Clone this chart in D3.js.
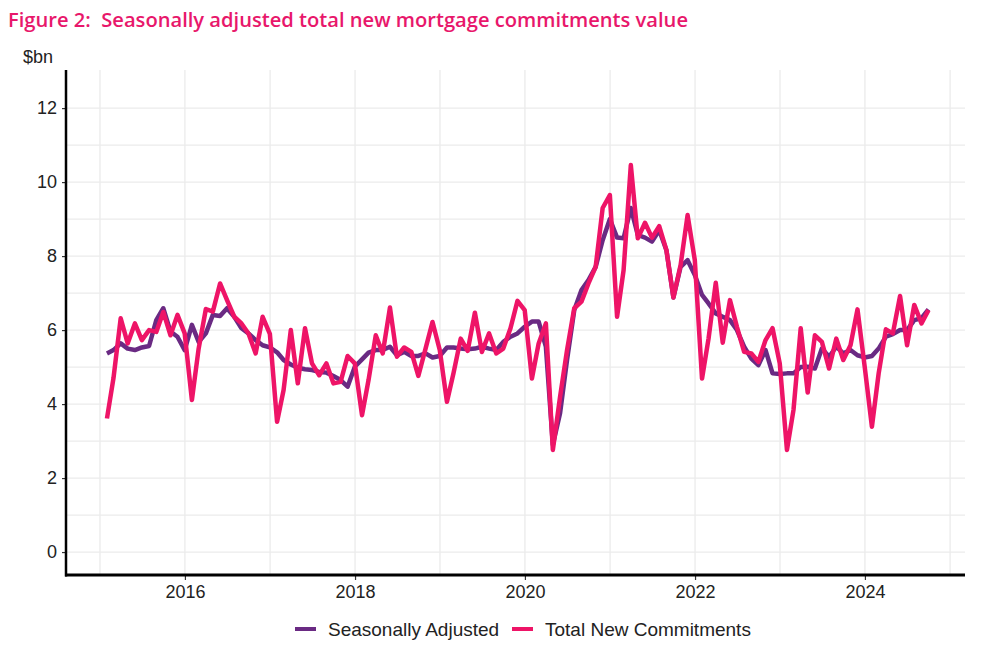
<!DOCTYPE html>
<html>
<head>
<meta charset="utf-8">
<script src="https://cdn.jsdelivr.net/npm/d3@7"></script>
<style>
  body { margin: 0; background: #fff; }
  svg { display: block; }
</style>
</head>
<body>
<svg id="chart" width="981" height="654"></svg>
<script>
// chart data: monthly, Jan 2015 to Sep 2024 ($bn)
var startMonth = new Date(2015, 0, 1);
var endMonth = new Date(2024, 8, 1);

var seasonallyAdjusted = [
  5.37, 5.46, 5.64, 5.50, 5.46, 5.53, 5.57, 6.27, 6.59, 5.96, 5.82, 5.46,
  6.14, 5.68, 5.91, 6.41, 6.38, 6.59, 6.36, 6.05, 5.91, 5.73, 5.59, 5.53,
  5.40, 5.19, 5.07, 4.98, 4.94, 4.92, 4.87, 4.85, 4.76, 4.65, 4.47, 5.01,
  5.21, 5.39, 5.46, 5.46, 5.55, 5.32, 5.41, 5.30, 5.30, 5.37, 5.26, 5.30,
  5.53, 5.53, 5.50, 5.48, 5.50, 5.55, 5.50, 5.46, 5.68, 5.82, 5.91, 6.09,
  6.23, 6.23, 5.55, 2.90, 3.75, 5.19, 6.54, 7.08, 7.35, 7.71, 8.43, 9.00,
  8.50, 8.48, 9.30, 8.57, 8.50, 8.39, 8.70, 8.16, 6.88, 7.71, 7.89, 7.49,
  6.95, 6.72, 6.45, 6.36, 6.27, 6.00, 5.55, 5.23, 5.05, 5.46, 4.83, 4.81,
  4.83, 4.83, 5.00, 5.01, 4.96, 5.50, 5.28, 5.55, 5.37, 5.46, 5.32, 5.26,
  5.30, 5.50, 5.82, 5.89, 6.00, 6.00, 6.27, 6.32, 6.56
];

var totalNewCommitments = [
  3.61, 4.70, 6.32, 5.64, 6.18, 5.73, 6.00, 5.95, 6.49, 5.86, 6.41, 5.91,
  4.11, 5.50, 6.57, 6.50, 7.26, 6.81, 6.36, 6.18, 5.91, 5.37, 6.36, 5.90,
  3.52, 4.38, 6.00, 4.56, 6.05, 5.10, 4.78, 5.10, 4.56, 4.60, 5.30, 5.10,
  3.70, 4.65, 5.86, 5.37, 6.61, 5.28, 5.53, 5.41, 4.76, 5.50, 6.22, 5.46,
  4.06, 4.83, 5.77, 5.44, 6.47, 5.41, 5.91, 5.37, 5.50, 6.05, 6.79, 6.54,
  4.69, 5.64, 6.18, 2.76, 4.20, 5.46, 6.59, 6.77, 7.26, 7.71, 9.30, 9.65,
  6.36, 7.62, 10.46, 8.48, 8.90, 8.50, 8.81, 8.16, 6.88, 7.76, 9.11, 7.89,
  4.69, 5.77, 7.28, 5.66, 6.81, 6.09, 5.41, 5.37, 5.14, 5.73, 6.05, 5.10,
  2.76, 3.84, 6.05, 4.31, 5.86, 5.68, 4.96, 5.77, 5.19, 5.59, 6.56, 5.01,
  3.39, 4.83, 6.02, 5.91, 6.92, 5.59, 6.68, 6.18, 6.54
];

var seriesNames = ['Seasonally Adjusted', 'Total New Commitments'];
var seriesColors = ['#6a2a83', '#ee1467'];

var yTicks = [0, 2, 4, 6, 8, 10, 12];
var xTickYears = [2016, 2018, 2020, 2022, 2024];

var titleText = 'Figure 2:  Seasonally adjusted total new mortgage commitments value';
var unitLabel = '$bn';

// layout
var margin = { top: 70, right: 16, bottom: 79, left: 66 };
var width = 981, height = 654;
var plotRight = width - margin.right;
var plotBottom = height - margin.bottom;
var labelFont = 'Liberation Sans, Arial, sans-serif';

var svg = d3.select('#chart');

// months -> plotted at the end of each month
var months = d3.timeMonth.range(startMonth, d3.timeMonth.offset(endMonth, 1));
var monthEnd = months.map(function(d) { return new Date(d.getFullYear(), d.getMonth() + 1, 0); });

var x = d3.scaleTime()
  .domain([new Date(2014, 7, 8), new Date(2025, 2, 6)])
  .range([margin.left, plotRight]);

var y = d3.scaleLinear()
  .domain([-0.62, 13.03])
  .range([plotBottom, margin.top]);

// gridlines (every year, every 1bn)
var gridYears = d3.range(2015, 2026).map(function(yr) { return new Date(yr, 0, 1); });
var gridVals = d3.range(0, 13);

var grid = svg.append('g').attr('class', 'grid');
grid.selectAll('line.v')
  .data(gridYears)
  .enter().append('line')
  .attr('class', 'v')
  .attr('x1', function(d) { return x(d); })
  .attr('x2', function(d) { return x(d); })
  .attr('y1', margin.top)
  .attr('y2', plotBottom)
  .attr('stroke', '#ebebeb')
  .attr('stroke-width', 1.3);

grid.selectAll('line.h')
  .data(gridVals)
  .enter().append('line')
  .attr('class', 'h')
  .attr('x1', margin.left)
  .attr('x2', plotRight)
  .attr('y1', function(d) { return y(d); })
  .attr('y2', function(d) { return y(d); })
  .attr('stroke', '#ebebeb')
  .attr('stroke-width', 1.3);

// lines
var line = d3.line()
  .x(function(d, i) { return x(monthEnd[i]); })
  .y(function(d) { return y(d); });

[seasonallyAdjusted, totalNewCommitments].forEach(function(series, k) {
  svg.append('path')
    .datum(series)
    .attr('fill', 'none')
    .attr('stroke', seriesColors[k])
    .attr('stroke-width', 4.5)
    .attr('stroke-linejoin', 'round')
    .attr('stroke-linecap', 'butt')
    .attr('d', line);
});

// axes
var yAxis = svg.append('g')
  .attr('transform', 'translate(' + margin.left + ',0)')
  .call(d3.axisLeft(y).tickValues(yTicks).tickSize(4).tickPadding(5).tickFormat(d3.format('d')));
yAxis.select('.domain').remove();
yAxis.selectAll('.tick line').attr('stroke', '#333').attr('stroke-width', 1.2);
yAxis.selectAll('text').attr('font-family', labelFont)
  .attr('font-size', 18).attr('fill', '#222');

var xAxis = svg.append('g')
  .attr('transform', 'translate(0,' + plotBottom + ')')
  .call(d3.axisBottom(x)
    .tickValues(xTickYears.map(function(yr) { return new Date(yr, 0, 1); }))
    .tickSize(5).tickPadding(5).tickFormat(d3.timeFormat('%Y')));
xAxis.select('.domain').remove();
xAxis.selectAll('.tick line').attr('stroke', '#333').attr('stroke-width', 1.2);
xAxis.selectAll('text').attr('font-family', labelFont)
  .attr('font-size', 18).attr('fill', '#222');

// axis lines drawn on top
svg.append('line')
  .attr('x1', margin.left).attr('x2', margin.left)
  .attr('y1', margin.top).attr('y2', plotBottom + 1.5)
  .attr('stroke', '#000').attr('stroke-width', 2.5);
svg.append('line')
  .attr('x1', margin.left - 1).attr('x2', plotRight)
  .attr('y1', plotBottom).attr('y2', plotBottom)
  .attr('stroke', '#000').attr('stroke-width', 3);

// title and unit label
svg.append('text')
  .attr('x', 8).attr('y', 27)
  .attr('font-family', 'Open Sans, Noto Sans, sans-serif')
  .attr('font-weight', 600)
  .attr('font-size', 19)
  .attr('fill', '#e8176b')
  .attr('textLength', 680)
  .attr('lengthAdjust', 'spacingAndGlyphs')
  .style('white-space', 'pre')
  .text(titleText);

svg.append('text')
  .attr('x', 23).attr('y', 63)
  .attr('font-family', labelFont)
  .attr('font-size', 18)
  .attr('fill', '#222')
  .text(unitLabel);

// legend
var legend = svg.append('g').attr('transform', 'translate(0,629)');
var legendX = [295, 512];
seriesNames.forEach(function(name, k) {
  legend.append('line')
    .attr('x1', legendX[k]).attr('x2', legendX[k] + 21)
    .attr('y1', 0).attr('y2', 0)
    .attr('stroke', seriesColors[k]).attr('stroke-width', 4);
  legend.append('text')
    .attr('x', legendX[k] + 33).attr('y', 6.5)
    .attr('font-family', labelFont)
    .attr('font-size', 19)
    .attr('fill', '#222')
    .text(name);
});
</script>
</body>
</html>
